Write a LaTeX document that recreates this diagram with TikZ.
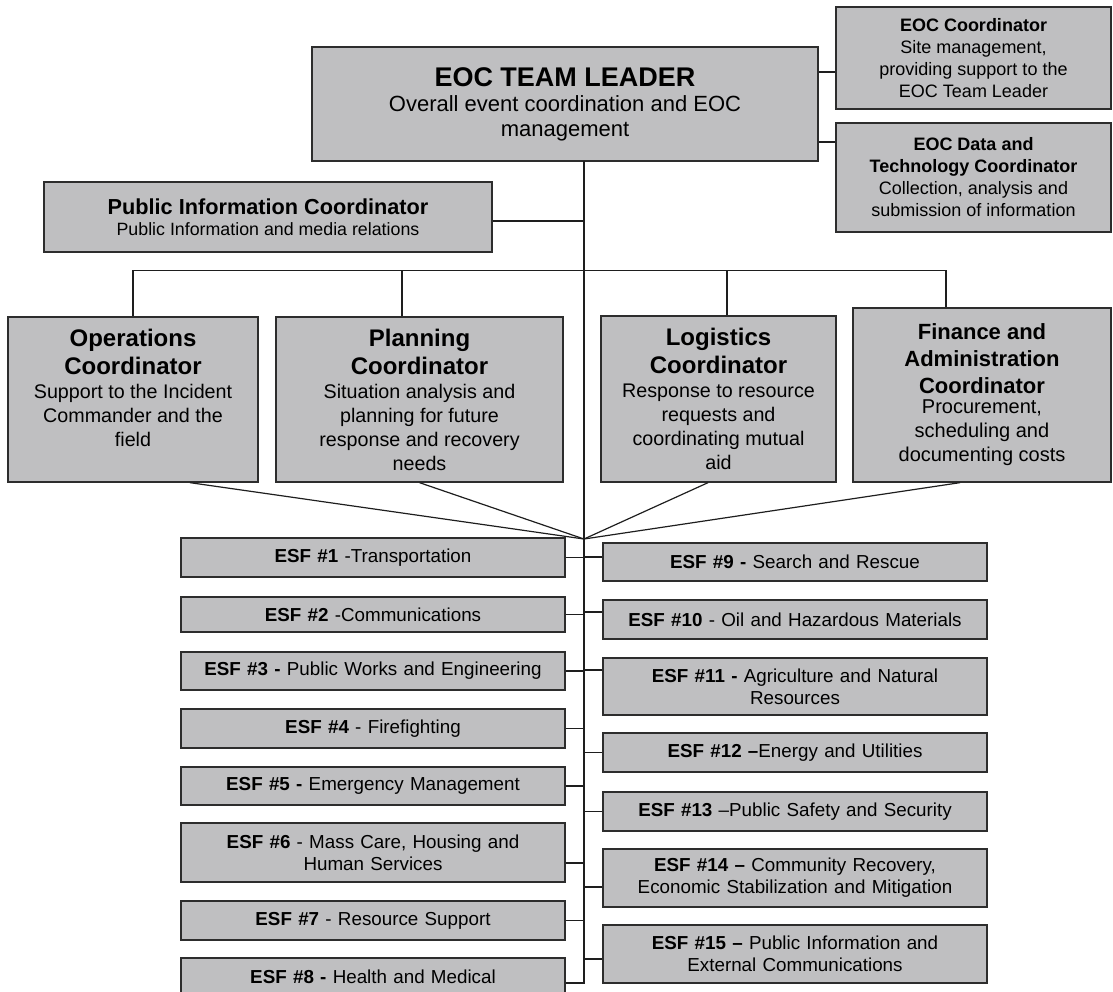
\documentclass[tikz,border=0pt]{standalone}
\usepackage{fontspec}
\setmainfont{Liberation Sans}
\definecolor{boxfill}{RGB}{191,191,193}
\definecolor{boxline}{RGB}{45,45,45}
\definecolor{connc}{RGB}{30,30,30}
\newcommand\NoSp{\spaceskip=\fontdimen2\font\xspaceskip=\fontdimen2\font\relax}
\newcommand\LdT{\fontsize{27}{30}\selectfont\bfseries\NoSp}
\newcommand\LdS{\fontsize{22}{25}\selectfont\mdseries\NoSp}
\newcommand\SmT{\fontsize{18}{22}\selectfont\bfseries\NoSp}
\newcommand\SmS{\fontsize{18}{22}\selectfont\mdseries\NoSp}
\newcommand\PiT{\fontsize{21.7}{21}\selectfont\bfseries\NoSp}
\newcommand\PiS{\fontsize{17.8}{21}\selectfont\mdseries\NoSp}
\newcommand\CoT{\fontsize{24}{28}\selectfont\bfseries\NoSp}
\newcommand\CoS{\fontsize{19.7}{24}\selectfont\mdseries\NoSp}
\newcommand\FiT{\fontsize{22}{27}\selectfont\bfseries\NoSp}
\newcommand\FiS{\fontsize{20}{24}\selectfont\mdseries\NoSp}
\newcommand\EsF{\fontsize{18.8}{22}\selectfont\mdseries\NoSp}
\begin{document}
\begin{tikzpicture}[x=1pt,y=-1pt,
  box/.style={draw=boxline, fill=boxfill, line width=1.3pt, rectangle, inner sep=0pt, align=center, text=black},
  esf/.style={box, minimum width=384pt, text width=375pt, font=\EsF},
  conn/.style={draw=connc, line width=1.2pt}]
\useasboundingbox (0,0) rectangle (1113,991);
\clip (0,0) rectangle (1113,991);

% top level
\node[box, font=\LdS, minimum width=506pt, minimum height=114pt, text width=490pt] (leader) at (565,104)
  {\LdT EOC TEAM LEADER\\\LdS Overall event coordination and EOC\\management};
\node[box, font=\SmS, minimum width=275pt, minimum height=102pt, text width=265pt] (eocc) at (973.5,58)
  {\SmT EOC Coordinator\\\SmS Site management,\\providing support to the\\EOC Team Leader};
\node[box, font=\SmS, minimum width=275pt, minimum height=109pt, text width=265pt] (data) at (973.5,177.5)
  {\SmT EOC Data and\\Technology Coordinator\\\SmS Collection, analysis and\\submission of information};
\node[box, font=\PiS, minimum width=448pt, minimum height=70pt, text width=440pt] (pic) at (268,217)
  {\PiT Public Information Coordinator\\\PiS Public Information and media relations};

% coordinators
\node[box, font=\CoS, minimum width=250pt, minimum height=165pt, text width=240pt] (ops) at (133,399.5)
  {\CoT Operations\\Coordinator\\\CoS Support to the Incident\\Commander and the\\field\rule[-24pt]{0pt}{1pt}};
\node[box, font=\CoS, minimum width=287pt, minimum height=165pt, text width=280pt] (plan) at (419.5,399.5)
  {\CoT Planning\\Coordinator\\\CoS Situation analysis and\\planning for future\\response and recovery\\needs};
\node[box, font=\CoS, minimum width=235pt, minimum height=166pt, text width=230pt] (log) at (718.5,399)
  {\CoT Logistics\\Coordinator\\\CoS Response to resource\\requests and\\coordinating mutual\\aid};
\node[box, font=\FiS, minimum width=258pt, minimum height=174pt, text width=250pt] (fin) at (982,395)
  {\FiT Finance and\\Administration\\Coordinator\\[-4pt]\FiS Procurement,\\scheduling and\\documenting costs};

% ESF left column
\node[esf, minimum height=39pt] (e1) at (373,557.5) {\textbf{ESF \#1} -Transportation};
\node[esf, minimum height=35pt] (e2) at (373,614.5) {\textbf{ESF \#2} -Communications};
\node[esf, minimum height=38pt] (e3) at (373,671) {\textbf{ESF \#3 -} Public Works and Engineering};
\node[esf, minimum height=39pt] (e4) at (373,728.5) {\textbf{ESF \#4} - Firefighting};
\node[esf, minimum height=38pt] (e5) at (373,786) {\textbf{ESF \#5 -} Emergency Management};
\node[esf, minimum height=59pt] (e6) at (373,852.5) {\textbf{ESF \#6} - Mass Care, Housing and\\Human Services};
\node[esf, minimum height=39pt] (e7) at (373,920.5) {\textbf{ESF \#7} - Resource Support};
\node[esf, minimum height=38pt] (e8) at (373,977) {\textbf{ESF \#8 -} Health and Medical};

% ESF right column
\node[esf, minimum height=38pt] (e9) at (795,562) {\textbf{ESF \#9 -} Search and Rescue};
\node[esf, minimum height=39pt] (e10) at (795,619.5) {\textbf{ESF \#10} - Oil and Hazardous Materials};
\node[esf, minimum height=57pt] (e11) at (795,686.5) {\textbf{ESF \#11 -} Agriculture and Natural\\Resources};
\node[esf, minimum height=39pt] (e12) at (795,752.5) {\textbf{ESF \#12 --}Energy and Utilities};
\node[esf, minimum height=39pt] (e13) at (795,811.5) {\textbf{ESF \#13} --Public Safety and Security};
\node[esf, minimum height=58pt] (e14) at (795,878) {\textbf{ESF \#14 --} Community Recovery,\\Economic Stabilization and Mitigation};
\node[esf, minimum height=58pt] (e15) at (795,954) {\textbf{ESF \#15 --} Public Information and\\External Communications};

% connectors
\coordinate (sp) at (584,161);
\coordinate (cv) at (584,539);
\draw[conn] (sp) -- ([yshift=-6pt]e8.east -| sp) -- ([yshift=-6pt]e8.east);
\draw[conn] ([yshift=-14pt]eocc.west) -- ([yshift=-14pt]eocc.west -| leader.east);
\draw[conn] ([yshift=35.5pt]data.west) -- ([yshift=35.5pt]data.west -| leader.east);
\draw[conn] ([yshift=-4pt]pic.east) -- ([yshift=-4pt]pic.east -| sp);

\draw[conn] (ops.north) -- ++(0,-46) -| ([xshift=-36pt]fin.north);
\draw[conn] ([xshift=-17.5pt]plan.north) -- ++(0,-46);
\draw[conn] ([xshift=8.5pt]log.north) -- ++(0,-45);

\draw[conn] ([xshift=57pt]ops.south) -- (cv);
\draw[conn] (plan.south) -- (cv);
\draw[conn] ([xshift=-10.5pt]log.south) -- (cv);
\draw[conn] ([xshift=-22pt]fin.south) -- (cv);

\draw[conn] (e1.east) -- (e1.east -| sp);
\draw[conn] (e2.east) -- (e2.east -| sp);
\draw[conn] (e3.east) -- (e3.east -| sp);
\draw[conn] (e4.east) -- (e4.east -| sp);
\draw[conn] (e5.east) -- (e5.east -| sp);
\draw[conn] ([yshift=-10.5pt]e6.east) -- ([yshift=-10.5pt]e6.east -| sp);
\draw[conn] (e7.east) -- (e7.east -| sp);

\draw[conn] ([yshift=5pt]e9.west) -- ([yshift=5pt]e9.west -| sp);
\draw[conn] ([yshift=7.5pt]e10.west) -- ([yshift=7.5pt]e10.west -| sp);
\draw[conn] ([yshift=16.5pt]e11.west) -- ([yshift=16.5pt]e11.west -| sp);
\draw[conn] (e12.west) -- (e12.west -| sp);
\draw[conn] (e13.west) -- (e13.west -| sp);
\draw[conn] ([yshift=-9pt]e14.west) -- ([yshift=-9pt]e14.west -| sp);
\draw[conn] ([yshift=-5pt]e15.west) -- ([yshift=-5pt]e15.west -| sp);
\end{tikzpicture}
\end{document}
